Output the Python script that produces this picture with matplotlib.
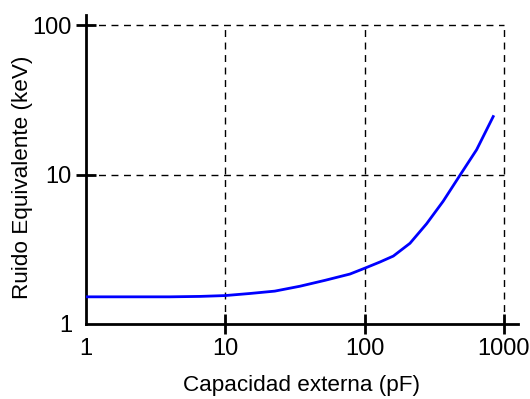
import numpy as np
import matplotlib.pyplot as plt

plt.rcParams['font.family'] = ['Liberation Sans', 'DejaVu Sans']

# Capacidad externa (pF) y ruido equivalente (keV)
capacidad = [1, 2, 4, 6.6, 10, 15, 22.7, 34.4, 52, 78.6, 100, 129, 161, 212,
             279, 367, 484, 638, 839]
ruido = [1.52, 1.52, 1.52, 1.53, 1.55, 1.6, 1.66, 1.79, 1.96, 2.16, 2.36, 2.6,
         2.85, 3.47, 4.69, 6.64, 9.9, 14.7, 24.5]

xticks = [1, 10, 100, 1000]
yticks = [1, 10, 100]

fig = plt.figure(figsize=(5.3, 3.99), dpi=100)
ax = fig.add_axes([0.162, 0.188, 0.815, 0.774])

ax.set_xscale('log')
ax.set_yscale('log')
ax.set_xlim(1, 1260)
ax.set_ylim(1, 117)

# rejilla discontinua hasta 1000 / 100
ax.hlines(yticks[1:], xticks[0], xticks[-1], colors='black', linestyles=(0, (5, 4)), lw=1, zorder=1)
ax.vlines(xticks[1:], yticks[0], yticks[-1], colors='black', linestyles=(0, (5, 4)), lw=1, zorder=1)

ax.plot(capacidad, ruido, color='#0000ff', lw=2, zorder=3)

ax.spines['top'].set_visible(False)
ax.spines['right'].set_visible(False)
ax.spines['left'].set_linewidth(2)
ax.spines['bottom'].set_linewidth(2)

ax.set_xticks(xticks)
ax.set_xticklabels([str(t) for t in xticks])
ax.set_yticks(yticks)
ax.set_yticklabels([str(t) for t in yticks])
ax.minorticks_off()
ax.tick_params(direction='inout', length=14, width=2, labelsize=17, pad=3)
ax.xaxis.get_major_ticks()[0].tick1line.set_visible(False)
ax.yaxis.get_major_ticks()[0].tick1line.set_visible(False)

ax.set_xlabel('Capacidad externa (pF)', fontsize=16.2, labelpad=11)
ax.set_ylabel('Ruido Equivalente (keV)', fontsize=16.2)
ax.yaxis.set_label_coords(-0.122, 0.476)

fig.savefig('out.png', dpi=100)
